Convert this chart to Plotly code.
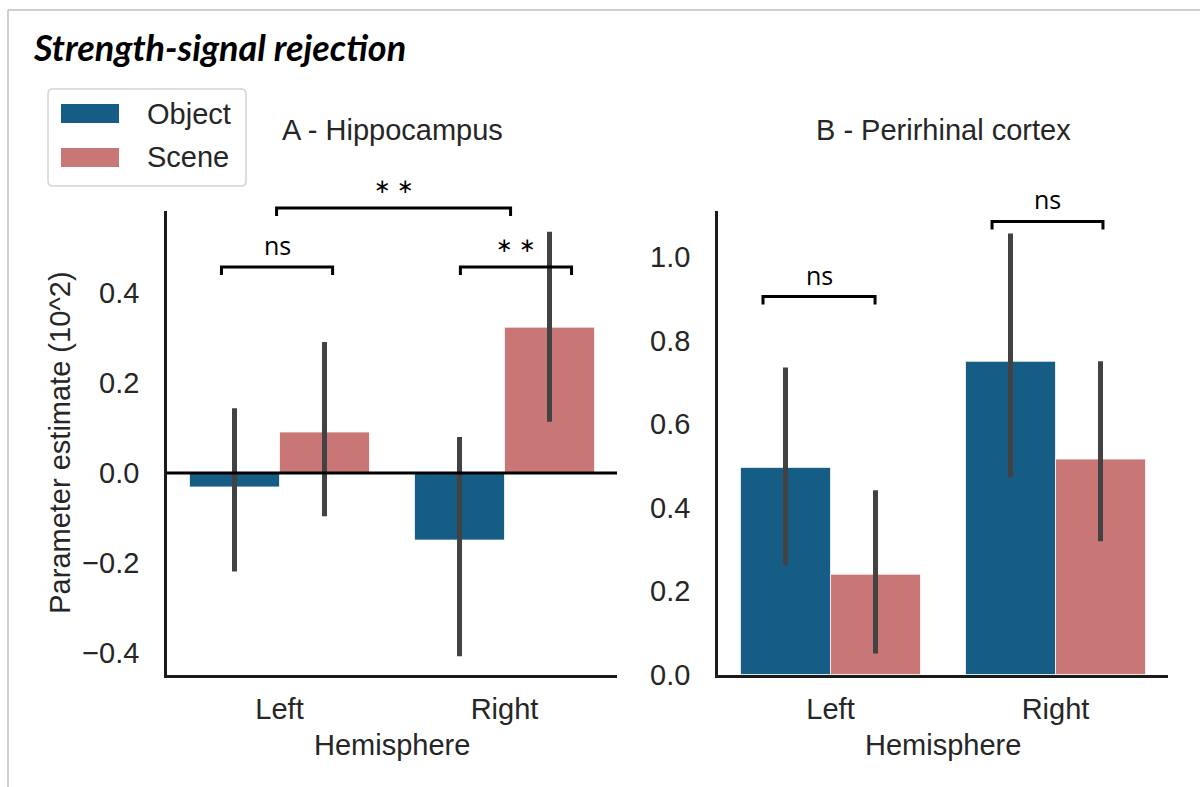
import plotly.graph_objects as go

# ---------------------------------------------------------------- data
hemispheres = ["Left", "Right"]

# A - Hippocampus: parameter estimates (10^2) with 95% CI bounds
hip_object = [-0.031, -0.149]
hip_scene = [0.091, 0.324]
hip_object_ci_low = [-0.219, -0.407]
hip_object_ci_high = [0.144, 0.080]
hip_scene_ci_low = [-0.096, 0.114]
hip_scene_ci_high = [0.291, 0.536]

# B - Perirhinal cortex
prc_object = [0.496, 0.750]
prc_scene = [0.240, 0.516]
prc_object_ci_low = [0.263, 0.472]
prc_object_ci_high = [0.735, 1.056]
prc_scene_ci_low = [0.050, 0.319]
prc_scene_ci_high = [0.441, 0.750]

hip_tickvals = [-0.4, -0.2, 0.0, 0.2, 0.4]
hip_ticktext = ["\u22120.4", "\u22120.2", "0.0", "0.2", "0.4"]
prc_tickvals = [0.0, 0.2, 0.4, 0.6, 0.8, 1.0]
prc_ticktext = ["0.0", "0.2", "0.4", "0.6", "0.8", "1.0"]

# significance brackets: (x start, x end, height, label)
hip_brackets = [(-0.258, 0.236, 0.458, "ns"),
                (0.804, 1.298, 0.458, "\u2217 \u2217"),
                (-0.013, 1.027, 0.589, "\u2217 \u2217")]
prc_brackets = [(-0.300, 0.198, 0.905, "ns"),
                (0.718, 1.211, 1.085, "ns")]

# ---------------------------------------------------------------- style
W, H = 1200, 803          # canvas size
LAYOUT_H = 787            # vertical units used for placing elements
BLUE = "#165d85"
PINK = "#c97676"
ERR = "#424242"
INK = "#262626"
SANS = "Liberation Sans, Arial, sans-serif"
HUMAN = "Open Sans, Lato, sans-serif"
FS = 29

X_RANGE = [-0.5, 1.5]
X_DOM_A = [167 / W, 617 / W]
X_DOM_B = [718 / W, 1168 / W]
Y_DOM = [1 - 674.5 / LAYOUT_H, 1 - 211 / LAYOUT_H]
Y_RANGE_A = [-0.4478, 0.5822]
Y_RANGE_B = [0.0, 1.110]


def px(x):
    return x / W


def py(y):
    return 1 - y / LAYOUT_H


def to_paper(v, dom, rng):
    return dom[0] + (v - rng[0]) / (rng[1] - rng[0]) * (dom[1] - dom[0])


def err(vals, lo, hi):
    return dict(type="data", symmetric=False,
                array=[h - v for v, h in zip(vals, hi)],
                arrayminus=[v - l for v, l in zip(vals, lo)],
                thickness=5, width=0, color=ERR)


fig = go.Figure()
bar_line = dict(color="rgba(255,255,255,0.75)", width=1)

fig.add_trace(go.Bar(x=hemispheres, y=hip_object, name="Object", marker=dict(color=BLUE, line=bar_line),
                     error_y=err(hip_object, hip_object_ci_low, hip_object_ci_high),
                     xaxis="x", yaxis="y", showlegend=False))
fig.add_trace(go.Bar(x=hemispheres, y=hip_scene, name="Scene", marker=dict(color=PINK, line=bar_line),
                     error_y=err(hip_scene, hip_scene_ci_low, hip_scene_ci_high),
                     xaxis="x", yaxis="y", showlegend=False))
fig.add_trace(go.Bar(x=hemispheres, y=prc_object, name="Object", marker=dict(color=BLUE, line=bar_line),
                     error_y=err(prc_object, prc_object_ci_low, prc_object_ci_high),
                     xaxis="x2", yaxis="y2", showlegend=False))
fig.add_trace(go.Bar(x=hemispheres, y=prc_scene, name="Scene", marker=dict(color=PINK, line=bar_line),
                     error_y=err(prc_scene, prc_scene_ci_low, prc_scene_ci_high),
                     xaxis="x2", yaxis="y2", showlegend=False))

shapes = []
annotations = []

# horizontal reference line at zero in panel A
shapes.append(dict(type="line", xref="x domain", yref="y", x0=0, x1=1, y0=0, y1=0,
                   line=dict(color="black", width=3), layer="above"))

# significance brackets
for brackets, xdom, yrng in ((hip_brackets, X_DOM_A, Y_RANGE_A), (prc_brackets, X_DOM_B, Y_RANGE_B)):
    for x0, x1, h, label in brackets:
        X0 = to_paper(x0, xdom, X_RANGE)
        X1 = to_paper(x1, xdom, X_RANGE)
        Y = to_paper(h, Y_DOM, yrng)
        drop = 8 / LAYOUT_H
        shapes.append(dict(type="path", xref="paper", yref="paper",
                           path=f"M{X0},{Y - drop} L{X0},{Y} L{X1},{Y} L{X1},{Y - drop}",
                           line=dict(color="black", width=3)))
        annotations.append(dict(xref="paper", yref="paper", x=(X0 + X1) / 2, y=Y, yshift=22,
                                text=label, showarrow=False, xanchor="center", yanchor="middle",
                                font=dict(family=HUMAN if label == "ns" else "DejaVu Sans",
                                          size=25 if label == "ns" else 20, color="black")))

# outer frame (top and left edges)
shapes.append(dict(type="line", xref="paper", yref="paper", x0=px(8), x1=1.0, y0=py(10), y1=py(10),
                   line=dict(color="#cfcfcf", width=2)))
shapes.append(dict(type="line", xref="paper", yref="paper", x0=px(8), x1=px(8), y0=py(10), y1=0,
                   line=dict(color="#cfcfcf", width=2)))

# legend box with swatches
lx0, lx1, ly0, ly1, r = 48, 246, 89, 186, 5
shapes.append(dict(type="path", xref="paper", yref="paper",
                   path=(f"M{px(lx0 + r)},{py(ly0)} L{px(lx1 - r)},{py(ly0)} "
                         f"Q{px(lx1)},{py(ly0)} {px(lx1)},{py(ly0 + r)} "
                         f"L{px(lx1)},{py(ly1 - r)} Q{px(lx1)},{py(ly1)} {px(lx1 - r)},{py(ly1)} "
                         f"L{px(lx0 + r)},{py(ly1)} Q{px(lx0)},{py(ly1)} {px(lx0)},{py(ly1 - r)} "
                         f"L{px(lx0)},{py(ly0 + r)} Q{px(lx0)},{py(ly0)} {px(lx0 + r)},{py(ly0)} Z"),
                   line=dict(color="#d4d4d4", width=1.5), fillcolor="white"))
for name, color, cy in (("Object", BLUE, 113.5), ("Scene", PINK, 157.5)):
    shapes.append(dict(type="rect", xref="paper", yref="paper",
                       x0=px(61), x1=px(119), y0=py(cy + 9.5), y1=py(cy - 9.5),
                       line=dict(width=0), fillcolor=color))
    annotations.append(dict(xref="paper", yref="paper", x=px(145), y=py(cy), text=name,
                            showarrow=False, xanchor="left", yanchor="middle",
                            font=dict(family=SANS, size=FS, color=INK)))

# figure title and panel titles
annotations.append(dict(xref="paper", yref="paper", x=px(31), y=py(47),
                        text="<b><i>Strength-signal rejection</i></b>", showarrow=False,
                        xanchor="left", yanchor="middle",
                        font=dict(family="Lato, Open Sans, sans-serif", size=36, color="black")))
annotations.append(dict(xref="paper", yref="paper", x=sum(X_DOM_A) / 2, y=py(130),
                        text="A - Hippocampus", showarrow=False, xanchor="center", yanchor="middle",
                        font=dict(family=SANS, size=FS, color=INK)))
annotations.append(dict(xref="paper", yref="paper", x=sum(X_DOM_B) / 2, y=py(130),
                        text="B - Perirhinal cortex", showarrow=False, xanchor="center", yanchor="middle",
                        font=dict(family=SANS, size=FS, color=INK)))

# axis titles
for dom in (X_DOM_A, X_DOM_B):
    annotations.append(dict(xref="paper", yref="paper", x=sum(dom) / 2, y=py(745),
                            text="Hemisphere", showarrow=False, xanchor="center", yanchor="middle",
                            font=dict(family=SANS, size=FS, color=INK)))
annotations.append(dict(xref="paper", yref="paper", x=px(60), y=sum(Y_DOM) / 2,
                        text="Parameter estimate (10^2)", textangle=-90, showarrow=False,
                        xanchor="center", yanchor="middle",
                        font=dict(family=SANS, size=FS, color=INK)))

axis_common = dict(showgrid=False, zeroline=False, showline=True, linecolor="#1a1a1a",
                   ticks="", tickfont=dict(family=SANS, size=FS, color=INK))

fig.update_layout(
    width=W, height=H, margin=dict(l=0, r=0, t=0, b=0),
    paper_bgcolor="white", plot_bgcolor="white",
    barmode="group", bargap=0.2, bargroupgap=0.0,
    showlegend=False,
    xaxis=dict(domain=X_DOM_A, range=X_RANGE, anchor="y", linewidth=3,
               ticklabelstandoff=7, **axis_common),
    yaxis=dict(domain=Y_DOM, range=Y_RANGE_A, anchor="x", linewidth=2.5,
               tickvals=hip_tickvals, ticktext=hip_ticktext, ticklabelstandoff=19, **axis_common),
    xaxis2=dict(domain=X_DOM_B, range=X_RANGE, anchor="y2", linewidth=3,
                ticklabelstandoff=7, **axis_common),
    yaxis2=dict(domain=Y_DOM, range=Y_RANGE_B, anchor="x2", linewidth=2.5,
                tickvals=prc_tickvals, ticktext=prc_ticktext, ticklabelstandoff=19, **axis_common),
    shapes=shapes,
    annotations=annotations,
)

fig.write_html("out.html")
